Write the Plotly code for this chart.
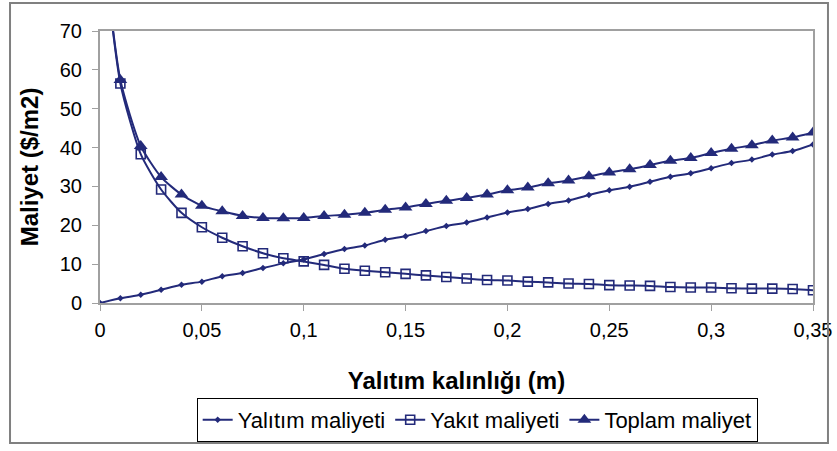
import plotly.graph_objects as go

x_vals = [0, 0.01, 0.02, 0.03, 0.04, 0.05, 0.06, 0.07, 0.08, 0.09, 0.10, 0.11, 0.12,
          0.13, 0.14, 0.15, 0.16, 0.17, 0.18, 0.19, 0.20, 0.21, 0.22, 0.23, 0.24,
          0.25, 0.26, 0.27, 0.28, 0.29, 0.30, 0.31, 0.32, 0.33, 0.34, 0.35]

yalitim = [0, 1.2, 2.1, 3.4, 4.7, 5.5, 6.9, 7.7, 9.0, 10.2, 11.2, 12.6, 13.9,
           14.8, 16.3, 17.2, 18.5, 19.8, 20.7, 22.0, 23.3, 24.2, 25.5, 26.4, 27.8,
           29.0, 29.9, 31.2, 32.5, 33.4, 34.7, 36.0, 36.9, 38.2, 39.1, 40.8]

yakit = [100, 56.5, 38.3, 29.2, 23.2, 19.5, 16.8, 14.6, 12.8, 11.5, 10.7, 9.8, 8.8,
         8.3, 7.9, 7.5, 7.1, 6.7, 6.3, 5.9, 5.8, 5.5, 5.3, 5.0, 4.9,
         4.6, 4.5, 4.4, 4.1, 4.0, 4.0, 3.8, 3.7, 3.7, 3.6, 3.3]

toplam = [100, 57.4, 40.4, 32.4, 27.9, 25.0, 23.6, 22.4, 21.9, 21.8, 21.9, 22.4, 22.7,
          23.2, 24.0, 24.6, 25.5, 26.3, 27.0, 27.9, 29.0, 29.7, 30.8, 31.5, 32.6,
          33.6, 34.4, 35.5, 36.6, 37.3, 38.6, 39.7, 40.6, 41.8, 42.6, 43.9]

x_ticks = [0, 0.05, 0.1, 0.15, 0.2, 0.25, 0.3, 0.35]
x_tick_text = ["0", "0,05", "0,1", "0,15", "0,2", "0,25", "0,3", "0,35"]
y_ticks = [0, 10, 20, 30, 40, 50, 60, 70]

NAVY = "#232a7a"
FONT = "Liberation Sans, Arial, sans-serif"

fig = go.Figure()
fig.add_trace(go.Scatter(
    x=x_vals, y=yalitim, name="Yalıtım maliyeti", mode="lines+markers",
    line=dict(color=NAVY, width=2, shape="spline", smoothing=0.6),
    marker=dict(symbol="diamond", size=5, color=NAVY)))
fig.add_trace(go.Scatter(
    x=x_vals, y=yakit, name="Yakıt maliyeti", mode="lines+markers",
    line=dict(color=NAVY, width=2, shape="spline", smoothing=0.6),
    marker=dict(symbol="square-open", size=9, color=NAVY, line=dict(width=1.6, color=NAVY))))
fig.add_trace(go.Scatter(
    x=x_vals, y=toplam, name="Toplam maliyet", mode="lines+markers",
    line=dict(color=NAVY, width=2, shape="spline", smoothing=0.6),
    marker=dict(symbol="triangle-up", size=12, color=NAVY)))

fig.update_layout(
    width=837, height=451,
    margin=dict(l=100, r=24, t=31, b=148, autoexpand=False),
    paper_bgcolor="white", plot_bgcolor="white",
    font=dict(family=FONT, color="black", size=20),
    showlegend=True,
    legend=dict(orientation="h", x=0.529, y=-0.43, xanchor="center", yanchor="middle",
                bordercolor="black", borderwidth=1, bgcolor="white",
                font=dict(size=22, family=FONT), itemwidth=30, tracegroupgap=0),
    shapes=[dict(type="rect", xref="paper", yref="paper",
                 x0=-0.1262, x1=1.021, y0=-0.515, y1=1.103,
                 line=dict(color="#808080", width=2))],
)
fig.update_xaxes(
    range=[0, 0.35], tickvals=x_ticks, ticktext=x_tick_text, automargin=False,
    showgrid=False, zeroline=False, showline=True, linecolor="#a0a0a0", linewidth=2,
    mirror=True, ticks="outside", ticklen=6, tickcolor="#a0a0a0",
    tickfont=dict(size=20, family=FONT), ticklabelstandoff=2,
    title=dict(text="<b>Yalıtım kalınlığı (m)</b>", font=dict(size=24, family=FONT), standoff=32))
fig.update_yaxes(
    range=[0, 70], tickvals=y_ticks, automargin=False,
    showgrid=False, zeroline=False, showline=True, linecolor="#a0a0a0", linewidth=2,
    mirror=True, ticks="outside", ticklen=6, tickcolor="#a0a0a0",
    tickfont=dict(size=20, family=FONT), ticklabelstandoff=6,
    title=dict(text="<b>Maliyet ($/m2)</b>", font=dict(size=24, family=FONT), standoff=14))

fig.write_html("out.html")
